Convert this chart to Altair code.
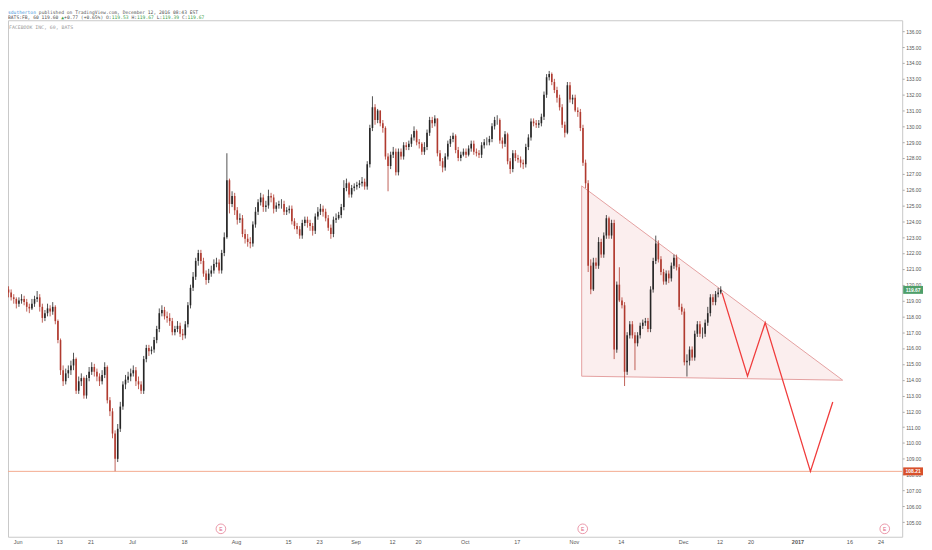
import altair as alt
import pandas as pd

# half-day candles, x = trading-day index (Jun 1 2016 = 0)
t0 = -1.75
step = 0.5
first_open = 119.7

closes = [
    119.5, 119.2, 119.1, 118.8, 119.0, 119.1, 118.9, 118.6, 118.5, 118.8,
    119.1, 119.2, 118.6, 117.9, 118.2, 118.5, 118.3, 118.6, 117.7, 116.5,
    114.6, 113.9, 114.4, 114.6, 114.9, 115.3, 113.3, 113.9, 114.1, 113.0,
    114.1, 114.5, 114.8, 114.5, 114.2, 113.9, 114.3, 114.8, 112.7, 112.0,
    110.6, 109.0, 110.9, 112.3, 113.7, 114.0, 114.2, 114.4, 114.6, 113.9,
    113.7, 113.3, 115.3, 116.0, 115.8, 115.9, 116.5, 117.2, 118.2, 118.4,
    118.0, 117.9, 117.7, 117.0, 117.2, 117.4, 116.9, 116.8, 117.5, 118.7,
    119.8, 120.5, 121.5, 122.0, 121.5, 120.7, 120.3, 120.7, 120.9, 121.3,
    121.4, 120.9, 122.0, 123.0, 126.6, 125.1, 125.6, 124.7, 124.1, 124.2,
    123.2, 122.9, 122.7, 122.6, 123.8, 124.6, 125.2, 125.5, 124.9, 125.0,
    125.6, 125.5, 124.8, 125.0, 125.1, 125.1, 124.6, 124.7, 124.8, 124.0,
    123.7, 123.5, 123.1, 123.9, 124.1, 123.9, 123.7, 123.4, 124.3, 124.6,
    124.8, 124.6, 124.2, 123.6, 123.2, 124.1, 124.2, 124.4, 124.9, 126.1,
    126.4, 125.7, 126.1, 126.2, 126.3, 126.4, 126.5, 126.2, 127.6, 129.9,
    131.2, 130.4, 131.0, 130.2, 129.9, 128.1, 127.5, 128.2, 128.4, 127.1,
    128.4, 128.1, 128.8, 128.7, 128.9, 129.3, 129.7, 129.0, 128.9, 128.4,
    128.7, 129.6, 130.4, 130.2, 130.5, 128.3, 127.8, 127.4, 128.1, 128.9,
    129.2, 129.4, 128.5, 128.0, 128.2, 128.4, 128.2, 128.6, 128.9, 128.4,
    128.3, 128.2, 128.8, 129.0, 129.0, 129.2, 130.0, 130.4, 130.4, 129.1,
    128.9, 129.5, 127.8, 127.3, 128.3, 128.0, 127.9, 127.7, 127.6, 128.7,
    129.3, 130.3, 130.2, 130.1, 130.2, 130.6, 132.0, 133.1, 133.3, 132.8,
    132.3, 131.8, 131.2, 130.1, 129.6, 132.6, 131.7, 131.8, 131.0, 130.9,
    129.9, 127.7, 126.4, 121.2, 119.7, 121.4, 121.2, 122.7, 121.9, 123.1,
    124.2, 123.1, 123.9, 115.9, 120.0, 119.0, 118.7, 114.5, 116.8, 117.5,
    116.8, 116.3, 116.8, 117.4, 117.6, 117.7, 117.2, 119.7, 121.5, 122.6,
    121.6, 120.8, 120.2, 120.7, 120.4, 121.2, 121.7, 121.1, 118.6, 118.3,
    115.1, 115.2, 115.9, 115.4, 116.9, 117.5, 116.9, 116.9, 117.6, 118.2,
    119.2, 118.9, 119.4, 119.5, 119.67,
]

highs = [
    119.9, 119.7, 119.4, 119.2, 119.2, 119.4, 119.3, 119.1, 118.8, 119.1,
    119.3, 119.6, 119.4, 118.8, 118.4, 118.8, 118.7, 118.9, 118.7, 117.8,
    116.6, 114.9, 114.7, 114.9, 115.2, 115.7, 115.4, 114.2, 114.4, 114.2,
    114.3, 114.8, 115.1, 115.0, 114.7, 114.4, 114.6, 115.1, 114.9, 112.9,
    112.2, 110.8, 111.2, 112.6, 113.9, 114.3, 114.5, 114.7, 114.9, 114.8,
    114.2, 113.9, 115.5, 116.2, 116.2, 116.1, 116.7, 117.4, 118.5, 118.7,
    118.6, 118.3, 118.2, 117.9, 117.4, 117.7, 117.6, 117.2, 117.7, 118.9,
    120.0, 120.8, 121.7, 122.2, 122.2, 121.7, 120.9, 121.0, 121.2, 121.6,
    121.7, 121.6, 122.2, 123.3, 128.3, 126.7, 125.9, 125.8, 124.9, 124.5,
    124.4, 123.5, 123.2, 123.0, 124.0, 124.9, 125.4, 125.8, 125.7, 125.3,
    126.0, 125.8, 125.7, 125.2, 125.3, 125.4, 125.3, 124.9, 125.0, 125.0,
    124.2, 123.9, 123.7, 124.1, 124.3, 124.3, 124.1, 123.9, 124.5, 124.9,
    125.1, 125.0, 124.8, 124.4, 123.8, 124.3, 124.5, 124.6, 125.1, 126.6,
    126.7, 126.5, 126.3, 126.4, 126.5, 126.6, 126.8, 126.7, 127.8, 130.1,
    131.9, 131.4, 131.1, 131.0, 130.4, 130.0, 128.3, 128.4, 128.7, 128.6,
    128.6, 128.6, 129.0, 129.0, 129.1, 129.5, 130.0, 129.8, 129.2, 129.0,
    129.0, 129.8, 130.6, 130.6, 130.7, 130.5, 128.5, 128.0, 128.3, 129.1,
    129.4, 129.6, 129.5, 128.7, 128.4, 128.6, 128.6, 128.8, 129.1, 129.1,
    128.6, 128.5, 129.0, 129.2, 129.3, 129.4, 130.2, 130.6, 130.7, 130.5,
    129.3, 129.7, 129.6, 128.0, 128.5, 128.5, 128.2, 128.1, 127.9, 128.9,
    129.5, 130.5, 130.5, 130.4, 130.4, 130.8, 132.2, 133.3, 133.5, 133.4,
    133.0, 132.5, 132.0, 131.4, 130.3, 132.8, 132.8, 132.0, 132.0, 131.2,
    131.1, 130.1, 127.9, 126.6, 121.6, 121.7, 121.7, 123.0, 122.9, 123.3,
    124.4, 124.3, 124.1, 124.1, 120.2, 121.1, 119.2, 118.9, 117.0, 117.7,
    117.7, 117.0, 117.0, 117.6, 117.8, 117.9, 117.9, 119.9, 121.7, 123.1,
    122.8, 121.8, 121.0, 120.9, 120.9, 121.4, 121.9, 121.9, 121.3, 118.8,
    118.5, 115.6, 116.1, 116.1, 117.1, 117.7, 117.7, 117.3, 117.8, 118.6,
    119.4, 119.4, 119.6, 119.8, 119.9,
]

lows = [
    119.2, 119.0, 118.8, 118.5, 118.6, 118.8, 118.7, 118.3, 118.2, 118.4,
    118.6, 118.9, 118.3, 117.6, 117.7, 118.0, 118.0, 118.1, 117.5, 116.3,
    114.3, 113.6, 113.7, 114.1, 114.3, 114.6, 113.1, 113.1, 113.6, 112.8,
    112.8, 113.9, 114.3, 114.2, 113.9, 113.6, 113.7, 114.1, 112.5, 111.7,
    110.3, 108.22, 108.8, 110.7, 112.1, 113.4, 113.8, 113.9, 114.2, 113.6,
    113.4, 113.1, 113.1, 115.1, 115.5, 115.6, 115.7, 116.3, 117.0, 118.0,
    117.8, 117.6, 117.4, 116.8, 116.8, 117.0, 116.7, 116.5, 116.6, 117.3,
    118.5, 119.6, 120.3, 121.2, 121.3, 120.5, 120.0, 120.1, 120.5, 120.7,
    121.1, 120.7, 120.7, 121.8, 122.9, 124.5, 124.9, 124.4, 123.8, 123.9,
    123.0, 122.6, 122.4, 122.3, 122.4, 123.6, 124.4, 125.0, 124.6, 124.6,
    124.8, 125.2, 124.5, 124.6, 124.8, 124.8, 124.4, 124.4, 124.5, 123.8,
    123.5, 123.2, 122.9, 122.9, 123.7, 123.6, 123.4, 123.1, 123.2, 124.1,
    124.4, 124.3, 124.0, 123.4, 122.9, 123.0, 123.9, 124.1, 124.2, 124.7,
    125.9, 125.5, 125.5, 125.9, 126.0, 126.1, 126.2, 126.0, 126.0, 127.4,
    129.7, 130.1, 130.2, 130.0, 129.6, 127.9, 125.9, 127.3, 128.0, 126.9,
    126.9, 127.9, 127.9, 128.5, 128.5, 128.7, 129.1, 128.8, 128.6, 128.2,
    128.2, 128.5, 129.4, 129.9, 130.0, 128.1, 127.5, 127.1, 127.2, 127.9,
    128.7, 129.0, 128.3, 127.8, 127.8, 128.1, 128.0, 128.1, 128.4, 128.2,
    128.1, 128.0, 128.0, 128.6, 128.8, 128.8, 129.0, 129.8, 130.1, 128.9,
    128.6, 128.7, 127.6, 127.0, 127.1, 127.8, 127.7, 127.4, 127.3, 127.4,
    128.5, 129.1, 130.0, 129.9, 129.9, 130.0, 130.4, 131.8, 132.9, 132.6,
    132.1, 131.5, 131.0, 129.9, 129.3, 129.5, 131.5, 131.4, 130.9, 130.6,
    129.7, 127.5, 126.1, 120.8, 119.4, 119.6, 121.0, 121.0, 121.7, 121.7,
    122.9, 122.9, 122.9, 115.3, 115.7, 118.9, 118.5, 113.6, 114.3, 116.6,
    116.6, 114.6, 116.1, 116.6, 117.2, 117.4, 117.0, 117.0, 119.5, 121.3,
    121.4, 120.6, 120.0, 120.0, 120.1, 120.2, 121.0, 120.9, 118.4, 118.1,
    114.9, 114.2, 114.9, 115.2, 115.2, 116.7, 116.7, 116.6, 116.7, 117.4,
    118.0, 118.7, 118.7, 119.2, 119.4,
]

# descending triangle drawn on the chart
tri_t = [108.5, 158.7]
tri_top = [126.24, 113.97]
tri_bottom = [114.22, 113.97]

# red projected path
proj_t = [135.5, 140.4, 143.8, 152.5, 156.8]
proj_p = [119.48, 114.22, 117.6, 108.21, 112.59]

support = 108.21
last_price = 119.67

earn_t = [39.1, 108.7, 166.8]

tick_days = [0, 8, 14, 22, 32, 42, 52, 58, 65, 72, 77, 86, 96, 107, 116, 128, 135, 141, 150, 160, 166]
tick_labels = ['Jun', '13', '21', 'Jul', '18', 'Aug', '15', '23', 'Sep', '12', '20', 'Oct', '17',
               'Nov', '14', 'Dec', '12', '20', '2017', '16', '24']
price_ticks = list(range(105, 137))

# header lines as (text, colour) pieces
dark = '#555'
green = '#3f9f4e'
head1 = [('sdutherton', '#3a8fd8'), (' published on TradingView.com, December 12, 2016 08:43 EST', dark)]
head2 = [('BATS:FB, 60 119.60 ', dark), ('\u25b2', green), ('+0.77 (+0.65%) O:', dark), ('119.53', green),
         (' H:', dark), ('119.67', green), (' L:', dark), ('119.39', green), (' C:', dark), ('119.67', green)]

W, H = 902, 521
font = 'Liberation Sans'
mono = 'DejaVu Sans Mono'
up_col, down_col = '#262626', '#b03a2f'

opens = [first_open] + closes[:-1]
df = pd.DataFrame({
    't': [t0 + step * i for i in range(len(closes))],
    'open': opens, 'high': highs, 'low': lows, 'close': closes,
})
df['high'] = df[['high', 'open', 'close']].max(axis=1)
df['low'] = df[['low', 'open', 'close']].min(axis=1)
df['dir'] = ['up' if c >= o else 'down' for o, c in zip(df['open'], df['close'])]

xs = alt.Scale(domain=[-0.9, 169.2], nice=False, zero=False)
ys = alt.Scale(domain=[104.08, 136.7], nice=False, zero=False)
col = alt.Color('dir:N', scale=alt.Scale(domain=['up', 'down'], range=[up_col, down_col]), legend=None)

label_expr = ("[" + ",".join("'%s'" % l for l in tick_labels) + "][indexof(["
              + ",".join(str(v) for v in tick_days) + "], datum.value)]")

x_axis = alt.Axis(values=tick_days, labelExpr=label_expr, title=None, grid=False, ticks=False,
                  domain=False, labelFontSize=5.5, labelColor='#555', labelFont=font,
                  labelPadding=3, labelOverlap=False, labelFlush=False,
                  labelFontWeight={'condition': {'test': 'datum.value == 150', 'value': 'bold'}, 'value': 'normal'})
y_axis = alt.Axis(orient='right', values=price_ticks, format='.2f', title=None, grid=False,
                  domain=False, tickSize=2, tickColor='#aaa', labelFontSize=5, labelColor='#555',
                  labelFont=font, labelPadding=1.5, labelOverlap=False, labelFlush=False)


def X(f):
    return alt.X(f, scale=xs, axis=x_axis)


def Y(f):
    return alt.Y(f, scale=ys, axis=y_axis)


base = alt.Chart(df)

tri = alt.Chart(pd.DataFrame({'t': tri_t, 'top': tri_top, 'bottom': tri_bottom})).mark_area(
    fill='#fbeeee', stroke='#e4a0a0', strokeWidth=1
).encode(x=X('t:Q'), y=Y('top:Q'), y2='bottom:Q')

sup = alt.Chart(pd.DataFrame({'p': [support]})).mark_rule(color='#f3ab90', strokeWidth=1).encode(y=Y('p:Q'))

wicks = base.mark_rule(strokeWidth=0.8, clip=True).encode(x=X('t:Q'), y=Y('low:Q'), y2='high:Q', color=col)
bodies = base.mark_bar(size=1.6, clip=True).encode(x=X('t:Q'), y=Y('open:Q'), y2='close:Q', color=col)

proj = alt.Chart(pd.DataFrame({'t': proj_t, 'p': proj_p})).mark_line(
    color='#f03c3c', strokeWidth=1.3
).encode(x=X('t:Q'), y=Y('p:Q'))

earn = alt.Chart(pd.DataFrame({'t': earn_t}))
earn_c = earn.mark_point(shape='circle', size=95, filled=False, color='#e0607c', strokeWidth=0.9).encode(
    x=X('t:Q'), y=alt.value(H - 8))
earn_e = earn.mark_text(text='E', fontSize=5, font=font, color='#e0607c').encode(x=X('t:Q'), y=alt.value(H - 8))

tags = pd.DataFrame({'p': [last_price, support], 'c': ['#4f9f6a', '#d8502c'],
                     's': ['%.2f' % last_price, '%.2f' % support]})
tag_box = alt.Chart(tags).mark_rule(strokeWidth=8).encode(
    y=Y('p:Q'), x=alt.value(W + 1), x2=alt.value(W + 21), color=alt.Color('c:N', scale=None))
tag_txt = alt.Chart(tags).mark_text(fontSize=5, font=font, color='white', fontWeight='bold').encode(
    y=Y('p:Q'), x=alt.value(W + 11), text='s:N')

# each piece is placed after the characters before it (monospace font)
fs = 4.7
cw = 0.602 * fs
head_layers = []
for yy, pieces in [(-7.5, head1), (-2.5, head2)]:
    pos = 0
    for s, c in pieces:
        lead = len(s) - len(s.lstrip(' '))
        head_layers.append(
            alt.Chart(pd.DataFrame({'s': [s.strip(' ')]})).mark_text(
                align='left', baseline='middle', fontSize=fs, font=mono, color=c
            ).encode(text='s:N', x=alt.value((pos + lead) * cw), y=alt.value(yy))
        )
        pos += len(s)

mark_name = alt.Chart(pd.DataFrame({'s': ['FACEBOOK INC, 60, BATS']})).mark_text(
    align='left', baseline='middle', fontSize=4.9, font=mono, color='#9a9a9a'
).encode(text='s:N', x=alt.value(1), y=alt.value(8))

chart = alt.layer(
    tri, sup, wicks, bodies, proj, earn_c, earn_e, tag_box, tag_txt, mark_name, *head_layers
).properties(
    width=W, height=H,
    autosize=alt.AutoSizeParams(type='none'),
    padding={'left': 0, 'top': 10, 'right': 22, 'bottom': 12},
    background='white',
).configure_view(
    stroke='#c8c8c8', strokeWidth=1
).configure_axis(labelOverlap=False)

chart.save('out.html', embed_options={'renderer': 'svg', 'actions': False})
